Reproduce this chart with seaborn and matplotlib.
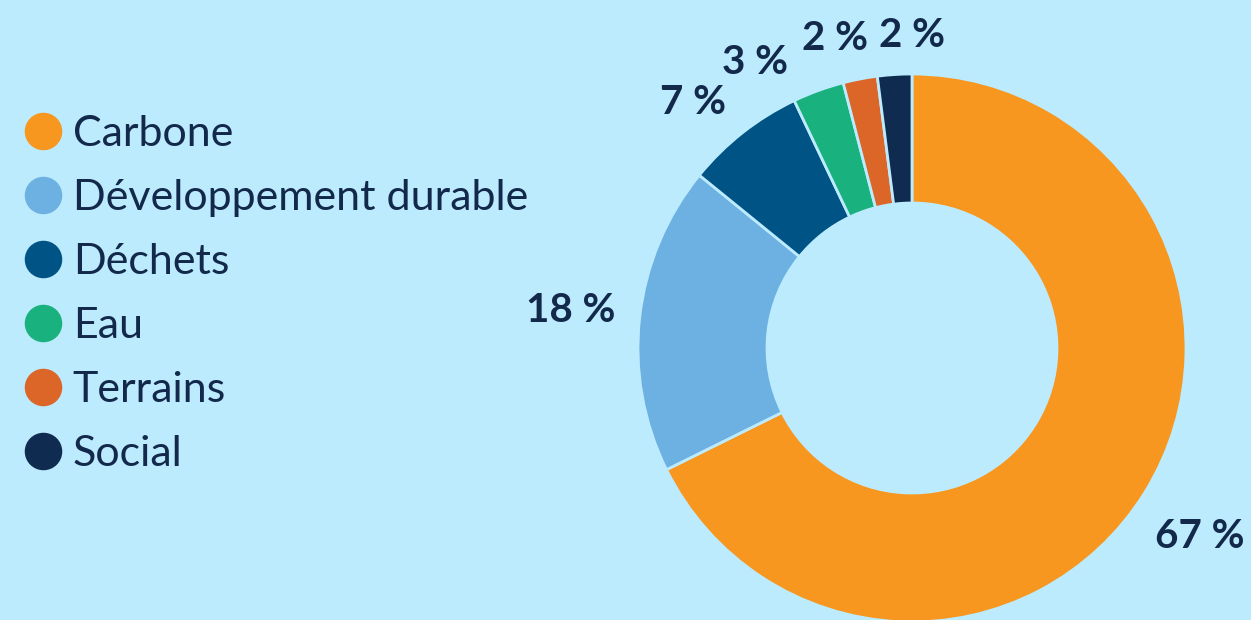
import matplotlib
matplotlib.use("Agg")
import matplotlib.pyplot as plt
from matplotlib.lines import Line2D
import seaborn as sns
import numpy as np

categories = ["Carbone", "Développement durable", "Déchets", "Eau", "Terrains", "Social"]
values = [67, 18, 7, 3, 2, 2]
pct_labels = ["67 %", "18 %", "7 %", "3 %", "2 %", "2 %"]
colors = ["#F7971F", "#6CB1E1", "#005385", "#19B27F", "#DC6528", "#0F2B4F"]

BG = "#BDEBFE"
TXT = "#13294B"

sns.set_theme(style="white")
plt.rcParams["font.family"] = ["Lato", "DejaVu Sans"]

W, H = 1251, 620
fig = plt.figure(figsize=(W / 100, H / 100), dpi=100)
fig.patch.set_facecolor(BG)

# pie axes: centre at (912, 348) px from top-left, outer radius 274 px
cx, cy, R = 912, 348, 274
half_w, half_h = 339, 348
ax = fig.add_axes([(cx - half_w) / W, (H - cy - half_h) / H, 2 * half_w / W, 2 * half_h / H])
ax.set_facecolor(BG)

palette = sns.color_palette(colors)
wedges, _ = ax.pie(values, colors=palette, startangle=90, counterclock=False,
                   radius=1.0,
                   wedgeprops=dict(width=(R - 145) / R, edgecolor=BG, linewidth=2))
ax.set_xlim(-half_w / R, half_w / R)
ax.set_ylim(-half_h / R, half_h / R)
ax.set_aspect("auto")
ax.axis("off")

# label placement (angle in degrees, radius in pie units)
label_angles = [-33.3, 173.8, 131.8, 118.8, 104.0, 90.0]
label_radii = [1.255, 1.252, 1.20, 1.19, 1.165, 1.142]
for txt, a, r in zip(pct_labels, label_angles, label_radii):
    t = np.deg2rad(a)
    ax.text(r * np.cos(t), r * np.sin(t), txt, ha="center", va="center",
            fontsize=29, fontweight="bold", color=TXT, clip_on=False)

handles = [Line2D([0], [0], marker="o", linestyle="", markersize=26,
                  markerfacecolor=c, markeredgecolor=c) for c in palette]
leg = fig.legend(handles, categories, loc="upper left",
                 bbox_to_anchor=(21 / W, 1 - 115 / H),
                 frameon=False, fontsize=31, labelcolor=TXT,
                 handlelength=1.0, handletextpad=0.20, labelspacing=0.605,
                 borderaxespad=0, borderpad=0)

fig.savefig("out.png", dpi=100, facecolor=BG)
